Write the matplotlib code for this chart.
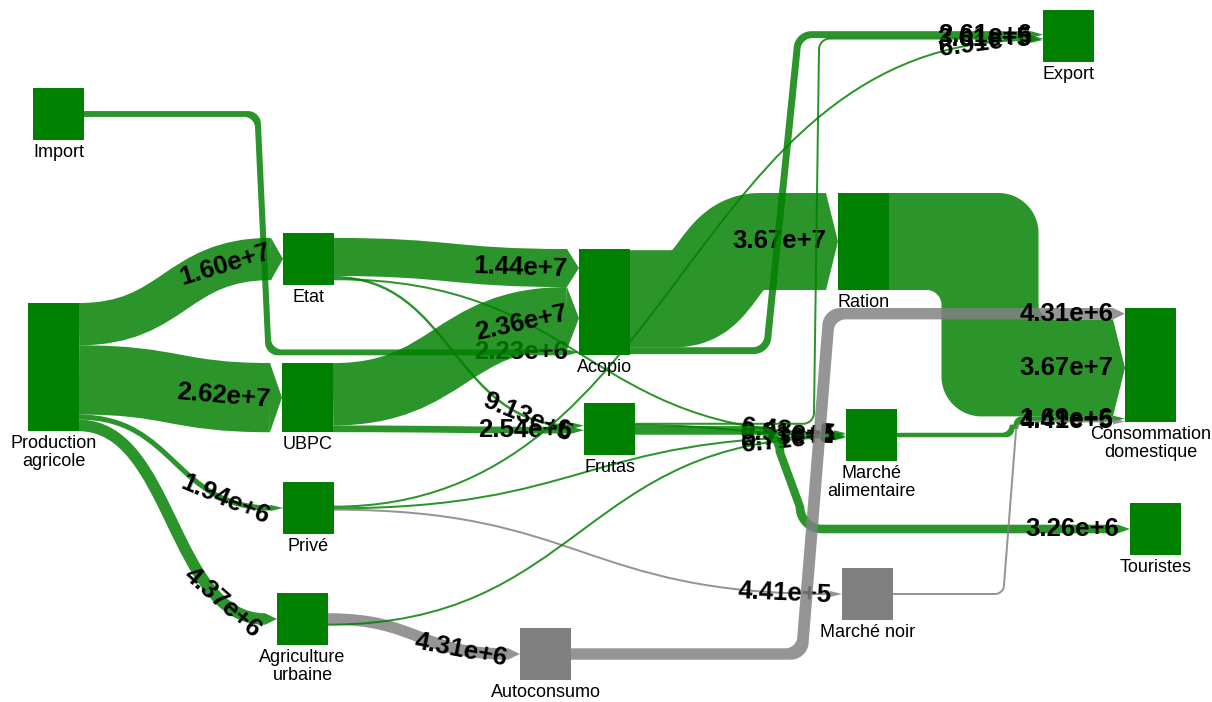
import numpy as np
import matplotlib
matplotlib.use("Agg")
import matplotlib.pyplot as plt
from matplotlib.path import Path
from matplotlib.patches import PathPatch, Rectangle, Polygon

# ---- data -------------------------------------------------------------
NODES = ["Import", "Production agricole", "Etat", "UBPC", "Privé",
         "Agriculture urbaine", "Autoconsumo", "Acopio", "Frutas", "Ration",
         "Marché alimentaire", "Marché noir", "Export",
         "Consommation domestique", "Touristes"]
INFORMAL_NODES = ["Autoconsumo", "Marché noir"]

SOURCES = ["Import", "Production agricole", "Production agricole", "Production agricole",
           "Production agricole", "Etat", "Etat", "Etat", "UBPC", "UBPC",
           "Privé", "Privé", "Privé", "Agriculture urbaine", "Agriculture urbaine",
           "Acopio", "Acopio", "Frutas", "Frutas", "Frutas",
           "Ration", "Marché alimentaire", "Marché noir", "Autoconsumo"]
TARGETS = ["Acopio", "Etat", "UBPC", "Privé",
           "Agriculture urbaine", "Acopio", "Frutas", "Marché alimentaire", "Acopio", "Frutas",
           "Export", "Marché alimentaire", "Marché noir", "Autoconsumo", "Marché alimentaire",
           "Ration", "Export", "Export", "Marché alimentaire", "Touristes",
           "Consommation domestique", "Consommation domestique", "Consommation domestique",
           "Consommation domestique"]
VALUES = [2.23e6, 1.60e7, 2.62e7, 1.94e6,
          4.37e6, 1.44e7, 9.13e5, 6.43e5, 2.36e7, 2.54e6,
          6.91e5, 5.73e5, 4.41e5, 4.31e6, 6.71e4,
          3.67e7, 2.61e6, 3.61e5, 6.91e5, 3.26e6,
          3.67e7, 1.69e6, 4.41e5, 4.31e6]

# ---- layout -------------------------------------------------------------
NODE_POS = {  # left, top (pixels)
    "Import": (33, 88), "Production agricole": (28, 303), "Etat": (283, 233),
    "UBPC": (282, 363), "Privé": (283, 482), "Agriculture urbaine": (277, 593),
    "Autoconsumo": (520, 628), "Acopio": (579, 249), "Frutas": (584, 403),
    "Ration": (838, 193), "Marché alimentaire": (846, 409), "Marché noir": (842, 568),
    "Export": (1043, 10), "Consommation domestique": (1125, 308), "Touristes": (1130, 503),
}
LABEL_TEXT = {"Production agricole": "Production\nagricole",
              "Agriculture urbaine": "Agriculture\nurbaine",
              "Marché alimentaire": "Marché\nalimentaire",
              "Consommation domestique": "Consommation\ndomestique"}
OUT_ORDER = {
    "Production agricole": ["Etat", "UBPC", "Privé", "Agriculture urbaine"],
    "Etat": ["Acopio", "Frutas", "Marché alimentaire"],
    "UBPC": ["Acopio", "Frutas"],
    "Privé": ["Export", "Marché alimentaire", "Marché noir"],
    "Agriculture urbaine": ["Autoconsumo", "Marché alimentaire"],
    "Acopio": ["Ration", "Export"],
    "Frutas": ["Export", "Marché alimentaire", "Touristes"],
}
IN_ORDER = {
    "Acopio": ["Etat", "UBPC", "Import"],
    "Frutas": ["Etat", "UBPC"],
    "Marché alimentaire": ["Etat", "Frutas", "Privé", "Agriculture urbaine"],
    "Export": ["Acopio", "Frutas", "Privé"],
    "Consommation domestique": ["Autoconsumo", "Ration", "Marché alimentaire", "Marché noir"],
}
# links with a vertical run: x of first bend, x of second bend, outer radius, inner radius
ROUTES = {
    ("Import", "Acopio"): (258, 268, 13, 11),
    ("Ration", "Consommation domestique"): (990, 990, 40, 15),
    ("Acopio", "Export"): (768, 797, 18, 12),
    ("Frutas", "Export"): (814, 819, 12, 10),
    ("Frutas", "Touristes"): (780, 800, 26, 18),
    ("Autoconsumo", "Consommation domestique"): (803, 828, 18, 12),
    ("Marché noir", "Consommation domestique"): (1004, 1016, 10, 8),
    ("Marché alimentaire", "Consommation domestique"): (1012, 1016, 8, 8),
}
# curves squeezed into a short span: centre x, half span
S_SPAN = {("Acopio", "Ration"): (718, 42)}

SCALE = 97 / 3.67e7      # px per unit
NODE_W = 51
MIN_H = 52
ARROW = 12
MIN_LW = 2.0
GREEN, GREY = "#008000", "#808080"
LINK_ALPHA = 0.83
W, H, DPI = 1212, 702, 100
PX2PT = 72 / DPI
CODES_S = [Path.MOVETO, Path.CURVE4, Path.CURVE4, Path.CURVE4]
CODES_SS = [Path.MOVETO, Path.LINETO, Path.CURVE4, Path.CURVE4, Path.CURVE4, Path.LINETO]
CODES_R = [Path.MOVETO, Path.LINETO, Path.CURVE4, Path.CURVE4, Path.CURVE4,
           Path.LINETO, Path.CURVE4, Path.CURVE4, Path.CURVE4, Path.LINETO]


def fmt(v):
    m, e = f"{v:.2e}".split("e")
    return f"{m}e{e[0]}{int(e[1:])}"


def s_path(x0, y0, x1, y1, span=None):
    if span is None:
        dx = (x1 - x0) * 0.5
        return Path([(x0, y0), (x0 + dx, y0), (x1 - dx, y1), (x1, y1)], CODES_S)
    xc, d = span
    return Path([(x0, y0), (xc - d, y0), (xc, y0), (xc, y1), (xc + d, y1), (x1, y1)],
                CODES_SS)


def routed_edge(x0, y0, x1, y1, xa, xb, ra, rb):
    s = 1 if y1 > y0 else -1
    half = abs(y1 - y0) / 2
    ra, rb = min(ra, half), min(rb, half)
    ka, kb = 0.552 * ra, 0.552 * rb
    verts = [(x0, y0), (xa - ra, y0),
             (xa - ra + ka, y0), (xa, y0 + s * (ra - ka)), (xa, y0 + s * ra),
             (xb, y1 - s * rb),
             (xb, y1 - s * (rb - kb)), (xb + rb - kb, y1), (xb + rb, y1),
             (x1, y1)]
    return Path(verts, CODES_R)


def routed_offset(x0, y0, x1, y1, route, o):
    xa, xb, r_out, r_in = route
    s = 1 if y1 > y0 else -1
    if o == 0:
        ra = rb = (r_out + r_in) / 2
    else:
        ra = r_out if o * s < 0 else r_in
        rb = r_out if o * s > 0 else r_in
    return routed_edge(x0, y0 + o, x1, y1 + o, xa - s * o, xb - s * o, ra, rb)


def sample(path):
    return np.vstack([seg(np.linspace(0, 1, 200)) for seg, _ in path.iter_bezier()])


def point_from_end(pts, back):
    d = np.r_[0, np.cumsum(np.hypot(*np.diff(pts, axis=0).T))]
    target = max(d[-1] - back, 0)
    i = int(np.clip(np.searchsorted(d, target), 1, len(pts) - 2))
    t = pts[min(i + 10, len(pts) - 1)] - pts[max(i - 10, 0)]
    return pts[i], np.degrees(np.arctan2(-t[1], t[0]))


# ---- geometry from data ----------------------------------------------
widths = [v * SCALE for v in VALUES]
n_links = len(VALUES)
in_tot = {n: 0.0 for n in NODES}
out_tot = {n: 0.0 for n in NODES}
for s, t, w in zip(SOURCES, TARGETS, widths):
    out_tot[s] += w
    in_tot[t] += w
heights = {n: max(in_tot[n], out_tot[n], MIN_H) for n in NODES}


def ports(side_links, order, tot, node):
    acc = NODE_POS[node][1] + (heights[node] - tot) / 2
    rank = {name: i for i, name in enumerate(order)}
    res = {}
    for li in sorted(side_links, key=lambda li: rank.get(side_links[li], li)):
        res[li] = acc + widths[li] / 2
        acc += widths[li]
    return res


y_src, y_tgt = {}, {}
for n in NODES:
    outs = {i: TARGETS[i] for i in range(n_links) if SOURCES[i] == n}
    ins = {i: SOURCES[i] for i in range(n_links) if TARGETS[i] == n}
    y_src.update(ports(outs, OUT_ORDER.get(n, []), out_tot[n], n))
    y_tgt.update(ports(ins, IN_ORDER.get(n, []), in_tot[n], n))

# ---- drawing --------------------------------------------------------------
plt.rcParams["font.family"] = ["Liberation Sans", "DejaVu Sans"]
fig = plt.figure(figsize=(W / DPI, H / DPI), dpi=DPI)
ax = fig.add_axes([0, 0, 1, 1])
ax.set_xlim(0, W)
ax.set_ylim(H, 0)
ax.axis("off")

for i in range(n_links):
    s, t = SOURCES[i], TARGETS[i]
    informal = s in INFORMAL_NODES or t in INFORMAL_NODES
    col = GREY if informal else GREEN
    x0 = NODE_POS[s][0] + NODE_W
    x1 = NODE_POS[t][0]
    xe = x1 - ARROW
    y0, y1 = y_src[i], y_tgt[i]
    w = max(widths[i], MIN_LW)
    z = 2 + i * 0.01
    route = ROUTES.get((s, t))
    if route is None:
        center = s_path(x0, y0, xe, y1, S_SPAN.get((s, t)))
        ax.add_patch(PathPatch(center, fill=False, edgecolor=col, alpha=LINK_ALPHA,
                               lw=w * PX2PT, capstyle="butt", joinstyle="round", zorder=z))
    else:
        center = routed_offset(x0, y0, xe, y1, route, 0)
        top = sample(routed_offset(x0, y0, xe, y1, route, -w / 2))
        bot = sample(routed_offset(x0, y0, xe, y1, route, w / 2))
        ax.add_patch(Polygon(np.vstack([top, bot[::-1]]), closed=True, facecolor=col,
                             edgecolor="none", alpha=LINK_ALPHA, zorder=z))
    ah = max(w / 2, 3)
    ax.add_patch(Polygon([(xe, y1 - ah), (x1, y1), (xe, y1 + ah)],
                         closed=True, facecolor=col, edgecolor="none",
                         alpha=LINK_ALPHA, zorder=z))
    p, ang = point_from_end(sample(center), 47)
    ax.text(p[0], p[1], fmt(VALUES[i]), ha="center", va="center", rotation=ang,
            rotation_mode="anchor", fontsize=18.5, fontweight="bold", color="black",
            zorder=z + 0.005)

for n in NODES:
    x, y = NODE_POS[n]
    col = GREY if n in INFORMAL_NODES else GREEN
    ax.add_patch(Rectangle((x, y), NODE_W, heights[n], facecolor=col,
                           edgecolor="none", zorder=5))
    ax.text(x + NODE_W / 2, y + heights[n] + 4, LABEL_TEXT.get(n, n), ha="center",
            va="top", fontsize=13, linespacing=1.05, color="black", zorder=6)

fig.savefig("out.png", dpi=DPI, facecolor="white")
